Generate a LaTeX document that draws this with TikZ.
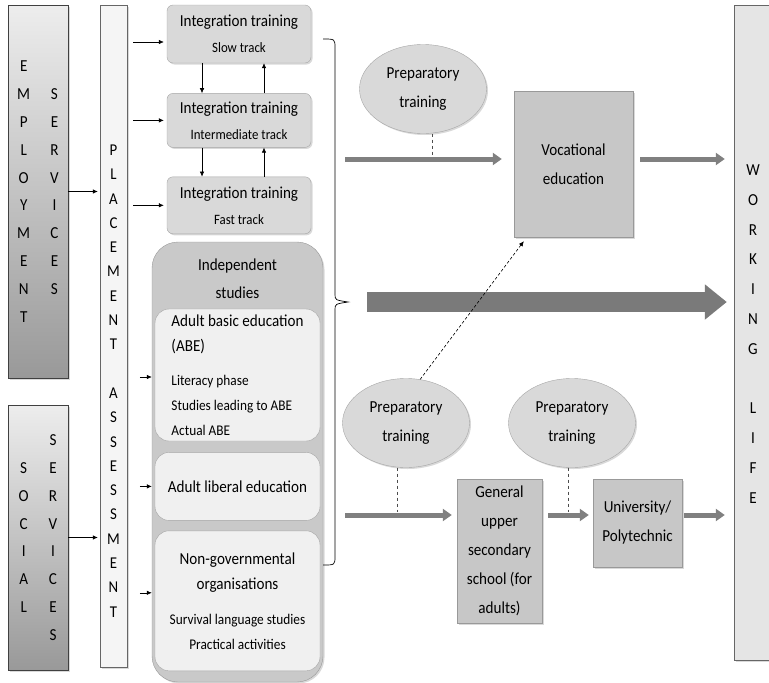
\documentclass[tikz,border=0pt]{standalone}
\usepackage{fontspec}
\setmainfont{Carlito}[FakeStretch=0.9]
\usetikzlibrary{arrows.meta, positioning, shadows, shapes.geometric}
\tikzset{
  shd/.style    = {drop shadow={opacity=0.3, shadow xshift=1.5pt, shadow yshift=-1.5pt}},
  svc/.style    = {draw=black!75, top color=black!7, bottom color=black!40, minimum width=60pt,
                   inner sep=0pt, shd, font=\fontsize{16.8}{27.8}\selectfont},
  col/.style    = {draw=black!60, inner sep=0pt, shd},
  vlet/.style   = {align=center, inner sep=0pt},
  track/.style  = {draw=black!35, fill=black!15, rounded corners=6pt, minimum width=144pt,
                   align=center, inner sep=0pt, shd, font=\fontsize{16.8}{26}\selectfont},
  grp/.style    = {draw=black!40, fill=black!21, rounded corners=26pt, inner sep=0pt, shd},
  sub/.style    = {draw=black!35, fill=black!6, rounded corners=14pt, minimum width=165pt,
                   inner sep=0pt, font=\fontsize{16.8}{25}\selectfont},
  prep/.style   = {ellipse, draw=black!35, fill=black!15, minimum width=127pt, minimum height=89pt,
                   align=center, inner sep=0pt, shd, font=\fontsize{16.8}{29}\selectfont},
  edu/.style    = {draw=black!40, fill=black!22, align=center, inner sep=0pt, shd,
                   font=\fontsize{16.8}{29}\selectfont},
  arr/.style    = {-{Latex[length=5pt, width=4.5pt]}, line width=0.6pt, draw=black},
  flow/.style   = {-{Triangle[length=9pt, width=12pt]}, line width=5pt, draw=black!50},
  bigflow/.style= {-{Triangle[length=22pt, width=34pt]}, line width=20pt, draw=black!52},
  tie/.style    = {dashed, draw=black!70, line width=0.6pt},
  hint/.style   = {densely dashed, -{Latex[length=5pt, width=4.5pt]}, line width=0.6pt, draw=black},
  brc/.style    = {draw=black, line width=0.7pt},
}
\newcommand{\smtxt}{\fontsize{14.8}{22.5}\selectfont}

\begin{document}
\begin{tikzpicture}[x=1pt, y=-1pt]
\useasboundingbox (0,0) rectangle (769,683);

\node[svc, minimum height=373pt] (emp) at (38,191.5)
  {\begin{tabular}{@{}c@{\hspace{20pt}}c@{}}
   E & \\ M & S\\ P & E\\ L & R\\ O & V\\ Y & I\\ M & C\\ E & E\\ N & S\\ T & \\
   \end{tabular}};
\node[svc, minimum height=265pt] (soc) at (38,537.5)
  {\begin{tabular}{@{}c@{\hspace{20pt}}c@{}}
   & S\\ S & E\\ O & R\\ C & V\\ I & I\\ A & C\\ L & E\\ & S\\
   \end{tabular}};

\node[col, fill=black!4, minimum width=27pt, minimum height=662pt] (place) at (113.5,336) {};
\node[vlet, font=\fontsize{16.5}{24.3}\selectfont] (placelbl) at (113.5,381)
  {P\\L\\A\\C\\E\\M\\E\\N\\T\\\mbox{}\\A\\S\\S\\E\\S\\S\\M\\E\\N\\T};

\node[col, fill=black!10, minimum width=40pt, minimum height=655pt] (work) at (754,332.5) {};
\node[vlet, font=\fontsize{16.8}{29.8}\selectfont] (worklbl) at (753,334)
  {W\\O\\R\\K\\I\\N\\G\\\mbox{}\\L\\I\\F\\E};

\node[track, minimum height=58pt] (slow) at (239,34)
  {Integration training\\{\fontsize{14.3}{26}\selectfont Slow track}};
\node[track, minimum height=54pt, below=30pt of slow] (inter)
  {Integration training\\{\fontsize{14.3}{26}\selectfont Intermediate track}};
\node[track, minimum height=57pt, below=29pt of inter] (fast)
  {Integration training\\{\fontsize{14.3}{26}\selectfont Fast track}};

\draw[arr] ([xshift=-37pt]slow.south) -- ([xshift=-37pt]inter.north);
\draw[arr] ([xshift=25pt]inter.north) -- ([xshift=25pt]slow.south);
\draw[arr] ([xshift=-37pt]inter.south) -- ([xshift=-37pt]fast.north);
\draw[arr] ([xshift=25pt]fast.north) -- ([xshift=25pt]inter.south);

\node[grp, minimum width=171pt, minimum height=440pt] (indep) at (237.5,462) {};
\node[align=center, inner sep=0pt, font=\fontsize{16.8}{28}\selectfont] (indeptitle)
  at (237.5,279) {Independent\\studies};
\node[sub, minimum height=132pt, align=left] (abe) at (237.5,375)
  {Adult basic education\\(ABE)\\[9pt]\smtxt Literacy phase\\\smtxt Studies leading to ABE\\\smtxt Actual ABE};
\node[sub, minimum height=68pt, below=11pt of abe] (liberal) {Adult liberal education};
\node[sub, minimum height=140pt, below=10pt of liberal, align=center] (ngo)
  {Non-governmental\\organisations\\[10pt]\smtxt Survival language studies\\\smtxt Practical activities};

\draw[arr] (emp.east) -- ([xshift=-2pt]place.west |- emp.east);
\draw[arr] (soc.east) -- ([xshift=-2pt]place.west |- soc.east);
\draw[arr, shorten >=3pt] ([xshift=6pt,yshift=-8pt]place.east |- slow.west) -- ([yshift=-8pt]slow.west);
\draw[arr, shorten >=3pt] ([xshift=6pt]place.east |- inter.west) -- (inter.west);
\draw[arr, shorten >=3pt] ([xshift=6pt]place.east |- fast.west) -- (fast.west);
\draw[arr] ([xshift=-15pt,yshift=-2pt]abe.west) -- ([yshift=-2pt]indep.west |- abe.west);
\draw[arr] ([xshift=-15pt]liberal.west) -- (indep.west |- liberal.west);
\draw[arr] ([xshift=-15pt,yshift=8pt]ngo.west) -- ([yshift=8pt]indep.west |- ngo.west);

\draw[brc] (323,39) .. controls (335,39) .. (335,48) -- (335,294)
  .. controls (335,300) .. (348,302) .. controls (335,304) .. (335,310)
  -- (335,556) .. controls (335,565) .. (323,565);
\coordinate (brtip) at (348,302);
\coordinate (upst) at (345,159);
\coordinate (lowst) at (345,515);

\node[prep] (prep1) at (423,89) {Preparatory\\training};
\node[edu, minimum width=119pt, minimum height=146pt] (voc) at (573.5,164) {Vocational\\education};
\node[prep] (prep2) at (406,423) {Preparatory\\training};
\node[prep] (prep3) at (572,423) {Preparatory\\training};
\node[edu, minimum width=85pt, minimum height=144pt] (gen) at (499.5,551)
  {General\\upper\\secondary\\school (for\\adults)};
\node[edu, minimum width=89pt, minimum height=88pt] (uni) at (637.5,523) {University/\\Polytechnic};

\draw[flow, shorten >=12pt] (upst) -- (voc.west |- upst);
\draw[flow, shorten >=9pt] ([xshift=7pt]voc.east |- upst) -- (work.west |- upst);
\draw[bigflow, shorten >=7pt] ([xshift=19pt]brtip) -- (work.west |- brtip);
\draw[flow, shorten >=5pt] (lowst) -- (gen.west |- lowst);
\draw[flow, shorten >=4pt] ([xshift=6pt]gen.east |- lowst) -- (uni.west |- lowst);
\draw[flow, shorten >=9pt] ([xshift=2pt]uni.east |- lowst) -- (work.west |- lowst);

\draw[tie] ([xshift=9pt]prep1.south) -- ([xshift=9pt,yshift=3pt]prep1.south |- upst);
\draw[tie] ([xshift=-9pt]prep2.south) -- ([xshift=-9pt,yshift=3pt]prep2.south |- lowst);
\draw[tie] ([xshift=-4pt]prep3.south) -- ([xshift=-4pt,yshift=3pt]prep3.south |- lowst);
\draw[hint, shorten >=5pt] (prep2.72) -- ([xshift=13pt]voc.south west);
\end{tikzpicture}
\end{document}
